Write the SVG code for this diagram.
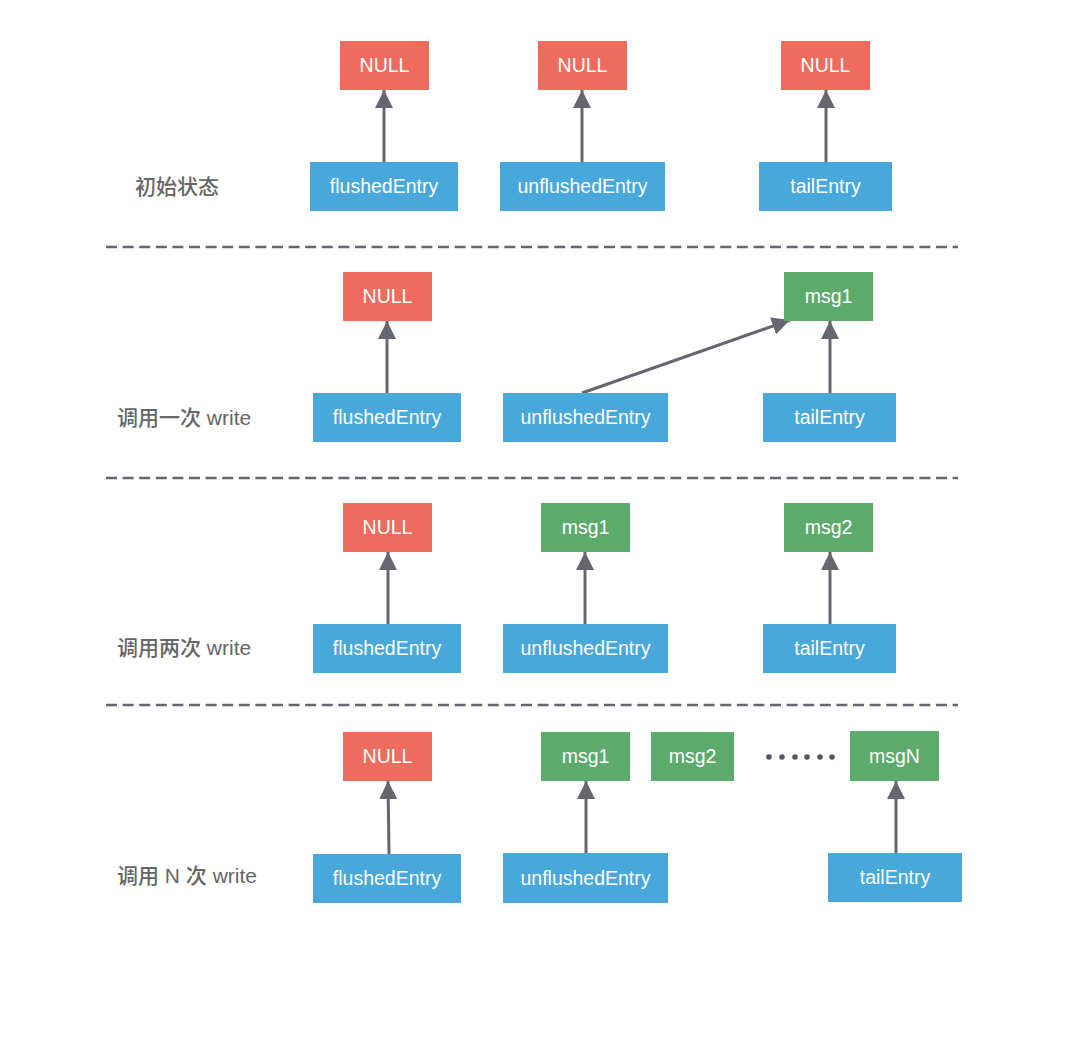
<svg xmlns="http://www.w3.org/2000/svg" width="1076" height="1055" viewBox="0 0 1076 1055">
<style>
.null{fill:#EE6C5E}
.entry{fill:#48A8DB}
.msg{fill:#5DAA6D}
.t{font-family:"Liberation Sans",Arial,sans-serif;font-size:19.5px;fill:#ffffff;text-anchor:middle}
.lbl{font-family:"Liberation Sans","Noto Sans CJK SC",sans-serif;font-size:21px;font-weight:500;fill:#666666}
.arr{stroke:#666670;stroke-width:3;fill:none;marker-end:url(#ah)}
.dash{stroke:#666670;stroke-width:2.5;stroke-dasharray:11 5.6;fill:none}
.dot{fill:#555560}
</style>
<defs>
<marker id="ah" markerUnits="userSpaceOnUse" markerWidth="18" markerHeight="18" refX="16" refY="8" orient="auto" viewBox="0 0 16 16">
<path d="M0,0 L16,8 L0,16 Z" fill="#666670"/>
</marker>
</defs>
<rect width="1076" height="1055" fill="#ffffff"/>

<g id="separators">
<line class="dash" x1="106" y1="247" x2="958" y2="247"/>
<line class="dash" x1="106" y1="478" x2="958" y2="478"/>
<line class="dash" x1="106" y1="705" x2="958" y2="705"/>
</g>

<g id="labels">
<text class="lbl" x="135" y="194">初始状态</text>
<text class="lbl" x="117" y="425">调用一次 write</text>
<text class="lbl" x="117" y="655">调用两次 write</text>
<text class="lbl" x="117" y="883">调用 N 次 write</text>
</g>

<g id="connectors">
<line class="arr" x1="384" y1="162" x2="384" y2="90"/>
<line class="arr" x1="582" y1="162" x2="582" y2="90"/>
<line class="arr" x1="826" y1="162" x2="826" y2="90"/>

<line class="arr" x1="387" y1="393" x2="387" y2="321"/>
<line class="arr" x1="582" y1="393" x2="790" y2="320"/>
<line class="arr" x1="830" y1="393" x2="830" y2="321"/>

<line class="arr" x1="388" y1="624" x2="388" y2="552"/>
<line class="arr" x1="585" y1="624" x2="585" y2="552"/>
<line class="arr" x1="830" y1="624" x2="830" y2="552"/>

<line class="arr" x1="389" y1="854" x2="388" y2="781"/>
<line class="arr" x1="586" y1="853" x2="586" y2="781"/>
<line class="arr" x1="896" y1="853" x2="896" y2="781"/>
</g>

<!-- Row 1 -->
<g id="r1-null1"><rect class="null" x="340" y="41" width="89" height="49"/><text class="t" x="384.5" y="72">NULL</text></g>
<g id="r1-null2"><rect class="null" x="538" y="41" width="89" height="49"/><text class="t" x="582.5" y="72">NULL</text></g>
<g id="r1-null3"><rect class="null" x="781" y="41" width="89" height="49"/><text class="t" x="825.5" y="72">NULL</text></g>
<g id="r1-flushed"><rect class="entry" x="310" y="162" width="148" height="49"/><text class="t" x="384" y="193">flushedEntry</text></g>
<g id="r1-unflushed"><rect class="entry" x="500" y="162" width="165" height="49"/><text class="t" x="582.5" y="193">unflushedEntry</text></g>
<g id="r1-tail"><rect class="entry" x="759" y="162" width="133" height="49"/><text class="t" x="825.5" y="193">tailEntry</text></g>

<!-- Row 2 -->
<g id="r2-null"><rect class="null" x="343" y="272" width="89" height="49"/><text class="t" x="387.5" y="303">NULL</text></g>
<g id="r2-msg1"><rect class="msg" x="784" y="272" width="89" height="49"/><text class="t" x="828.5" y="303">msg1</text></g>
<g id="r2-flushed"><rect class="entry" x="313" y="393" width="148" height="49"/><text class="t" x="387" y="424">flushedEntry</text></g>
<g id="r2-unflushed"><rect class="entry" x="503" y="393" width="165" height="49"/><text class="t" x="585.5" y="424">unflushedEntry</text></g>
<g id="r2-tail"><rect class="entry" x="763" y="393" width="133" height="49"/><text class="t" x="829.5" y="424">tailEntry</text></g>

<!-- Row 3 -->
<g id="r3-null"><rect class="null" x="343" y="503" width="89" height="49"/><text class="t" x="387.5" y="534">NULL</text></g>
<g id="r3-msg1"><rect class="msg" x="541" y="503" width="89" height="49"/><text class="t" x="585.5" y="534">msg1</text></g>
<g id="r3-msg2"><rect class="msg" x="784" y="503" width="89" height="49"/><text class="t" x="828.5" y="534">msg2</text></g>
<g id="r3-flushed"><rect class="entry" x="313" y="624" width="148" height="49"/><text class="t" x="387" y="655">flushedEntry</text></g>
<g id="r3-unflushed"><rect class="entry" x="503" y="624" width="165" height="49"/><text class="t" x="585.5" y="655">unflushedEntry</text></g>
<g id="r3-tail"><rect class="entry" x="763" y="624" width="133" height="49"/><text class="t" x="829.5" y="655">tailEntry</text></g>

<!-- Row 4 -->
<g id="r4-null"><rect class="null" x="343" y="732" width="89" height="49"/><text class="t" x="387.5" y="763">NULL</text></g>
<g id="r4-msg1"><rect class="msg" x="541" y="732" width="89" height="49"/><text class="t" x="585.5" y="763">msg1</text></g>
<g id="r4-msg2"><rect class="msg" x="651" y="732" width="83" height="49"/><text class="t" x="692.5" y="763">msg2</text></g>
<g id="r4-dots">
<circle class="dot" cx="769" cy="757" r="2.8"/>
<circle class="dot" cx="782" cy="757" r="2.8"/>
<circle class="dot" cx="795" cy="757" r="2.8"/>
<circle class="dot" cx="807" cy="757" r="2.8"/>
<circle class="dot" cx="820" cy="757" r="2.8"/>
<circle class="dot" cx="832" cy="757" r="2.8"/>
</g>
<g id="r4-msgN"><rect class="msg" x="850" y="731" width="89" height="50"/><text class="t" x="894.5" y="763">msgN</text></g>
<g id="r4-flushed"><rect class="entry" x="313" y="854" width="148" height="49"/><text class="t" x="387" y="885">flushedEntry</text></g>
<g id="r4-unflushed"><rect class="entry" x="503" y="853" width="165" height="50"/><text class="t" x="585.5" y="885">unflushedEntry</text></g>
<g id="r4-tail"><rect class="entry" x="828" y="853" width="134" height="49"/><text class="t" x="895" y="884">tailEntry</text></g>
</svg>
